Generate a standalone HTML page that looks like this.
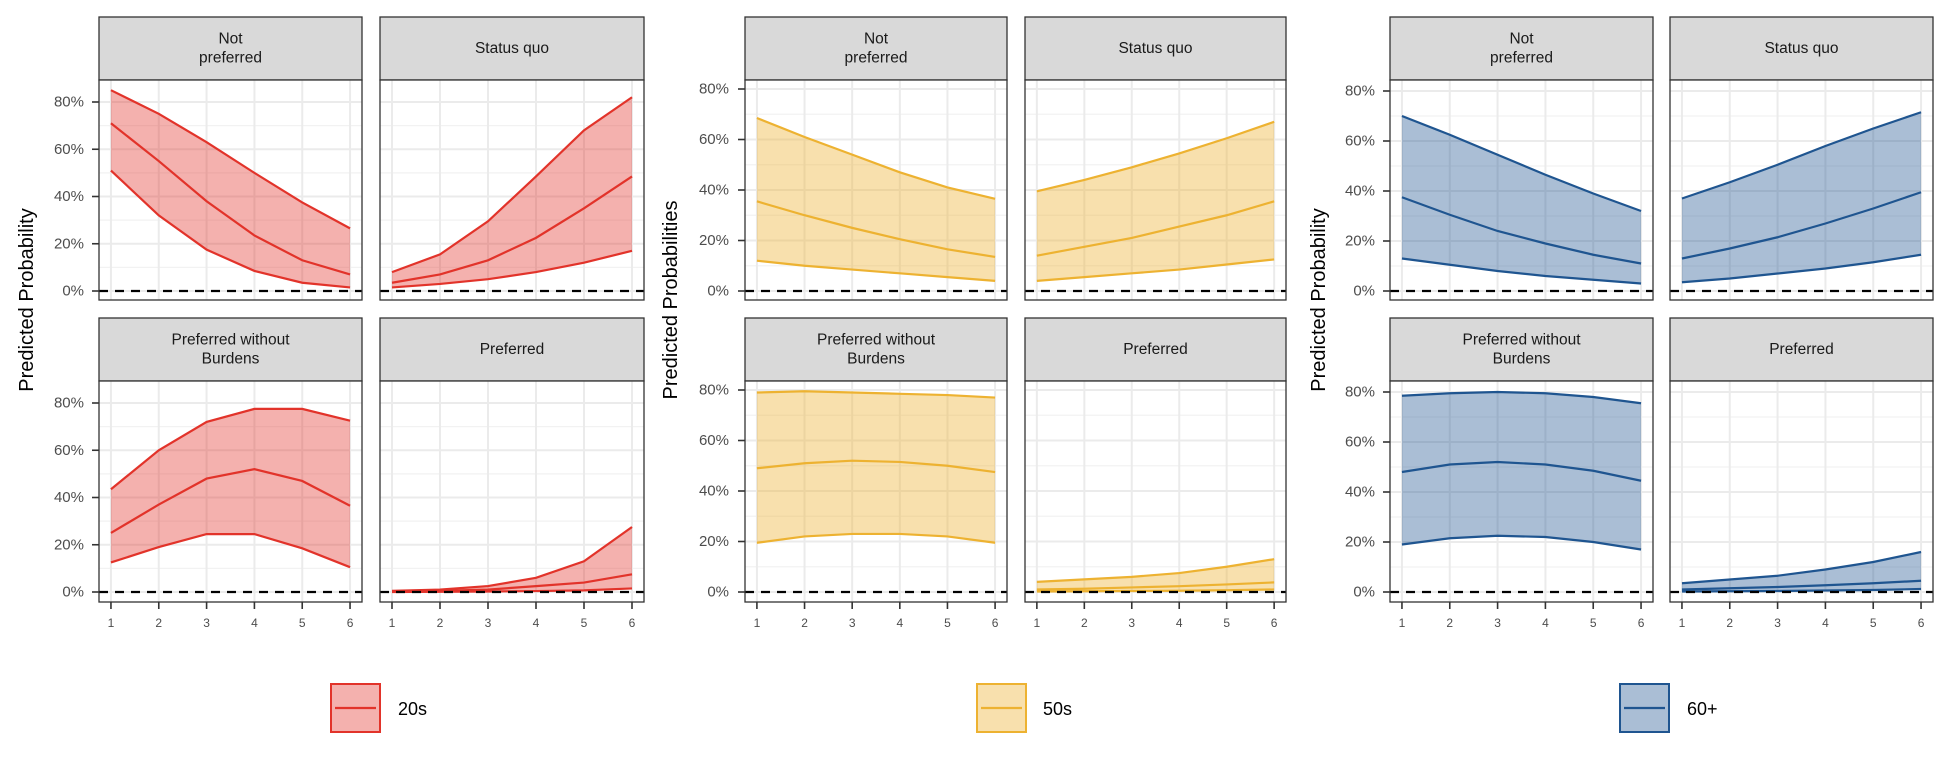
<!DOCTYPE html>
<html><head><meta charset="utf-8">
<style>
html,body{margin:0;padding:0;background:#fff;}
svg{display:block;font-family:"Liberation Sans",Arial,sans-serif;}
</style></head>
<body>
<svg id="chart" width="1950" height="768" viewBox="0 0 1950 768" xmlns="http://www.w3.org/2000/svg"></svg>
<script>
const xCats = [1,2,3,4,5,6];
const yTicks = [0,20,40,60,80];
const yTickLabels = ["0%","20%","40%","60%","80%"];
const facetNames = ["Not\npreferred","Status quo","Preferred without\nBurdens","Preferred"];
const groupNames = ["20s","50s","60+"];
// 20s
const g20_np_hi=[85,75,63,50,37.5,26.5], g20_np_mid=[71,55,38,23.5,13,7], g20_np_lo=[51,32,17.5,8.5,3.5,1.5];
const g20_sq_hi=[8,15.5,29.5,48.5,68,82], g20_sq_mid=[3.5,7,13,22.5,35,48.5], g20_sq_lo=[1.5,3,5,8,12,17];
const g20_pw_hi=[43.5,60,72,77.5,77.5,72.5], g20_pw_mid=[25,37,48,52,47,36.5], g20_pw_lo=[12.5,19,24.5,24.5,18.5,10.5];
const g20_pr_hi=[0.5,1,2.5,6,13,27.5], g20_pr_mid=[0.2,0.5,1,2.5,4,7.5], g20_pr_lo=[0,0.1,0.2,0.4,0.7,1.5];
// 50s
const g50_np_hi=[68.5,61,54,47,41,36.5], g50_np_mid=[35.5,30,25,20.5,16.5,13.5], g50_np_lo=[12,10,8.5,7,5.5,4];
const g50_sq_hi=[39.5,44,49,54.5,60.5,67], g50_sq_mid=[14,17.5,21,25.5,30,35.5], g50_sq_lo=[4,5.5,7,8.5,10.5,12.5];
const g50_pw_hi=[79,79.5,79,78.5,78,77], g50_pw_mid=[49,51,52,51.5,50,47.5], g50_pw_lo=[19.5,22,23,23,22,19.5];
const g50_pr_hi=[4,5,6,7.5,10,13], g50_pr_mid=[1,1.3,1.8,2.3,3,3.8], g50_pr_lo=[0.2,0.3,0.4,0.5,0.7,1];
// 60+
const g60_np_hi=[70,62.5,54.5,46.5,39,32], g60_np_mid=[37.5,30.5,24,19,14.5,11], g60_np_lo=[13,10.5,8,6,4.5,3];
const g60_sq_hi=[37,43.5,50.5,58,65,71.5], g60_sq_mid=[13,17,21.5,27,33,39.5], g60_sq_lo=[3.5,5,7,9,11.5,14.5];
const g60_pw_hi=[78.5,79.5,80,79.5,78,75.5], g60_pw_mid=[48,51,52,51,48.5,44.5], g60_pw_lo=[19,21.5,22.5,22,20,17];
const g60_pr_hi=[3.5,5,6.5,9,12,16], g60_pr_mid=[1,1.5,2,2.7,3.5,4.5], g60_pr_lo=[0.2,0.3,0.4,0.6,0.8,1.2];

const series = [
 [[g20_np_lo,g20_np_mid,g20_np_hi],[g20_sq_lo,g20_sq_mid,g20_sq_hi],[g20_pw_lo,g20_pw_mid,g20_pw_hi],[g20_pr_lo,g20_pr_mid,g20_pr_hi]],
 [[g50_np_lo,g50_np_mid,g50_np_hi],[g50_sq_lo,g50_sq_mid,g50_sq_hi],[g50_pw_lo,g50_pw_mid,g50_pw_hi],[g50_pr_lo,g50_pr_mid,g50_pr_hi]],
 [[g60_np_lo,g60_np_mid,g60_np_hi],[g60_sq_lo,g60_sq_mid,g60_sq_hi],[g60_pw_lo,g60_pw_mid,g60_pw_hi],[g60_pr_lo,g60_pr_mid,g60_pr_hi]]
];

const NS="http://www.w3.org/2000/svg";
const svg=document.getElementById('chart');
function mk(tag,attrs,parent){const e=document.createElementNS(NS,tag);for(const k in attrs)e.setAttribute(k,attrs[k]);(parent||svg).appendChild(e);return e;}

const layout=[
 {cols:[[99,362],[380,644]], y80:102, title:"Predicted Probability", titleX:27, labR:84, color:"#E2332A", fill:"rgba(226,51,42,0.38)", keyX:330, labX:398},
 {cols:[[745,1007],[1025,1286]], y80:89, title:"Predicted Probabilities", titleX:671, labR:729, color:"#EDB231", fill:"rgba(237,178,49,0.4)", keyX:976, labX:1043},
 {cols:[[1390,1653],[1670,1933]], y80:91, title:"Predicted Probability", titleX:1319, labR:1375, color:"#1F5590", fill:"rgba(31,85,144,0.38)", keyX:1619, labX:1687}
];
const rows=[{st:17,pt:80,pb:300,zero:291},{st:318,pt:381,pb:602,zero:592}];

layout.forEach((L,gi)=>{
  const g=mk('g',{});
  
  
  const yt=mk('text',{x:L.titleX,y:300,'font-size':20,fill:'#000','text-anchor':'middle',transform:`rotate(-90 ${L.titleX} 300)`,'dominant-baseline':'central'},g);
  yt.textContent=L.title;
  
  
  for(let f=0;f<4;f++){
    const r=rows[Math.floor(f/2)], c=L.cols[f%2];
    const x0=c[0],x1=c[1];
    const pxPer=(x1-x0)/5.5;
    const xs=v=>x0+(v-0.75)*pxPer;
    const ppu=(r.zero-(L.y80+(r.pt-80)))/80;
    const ys=v=>r.zero-v*ppu;
    const pg=mk('g',{},g);
    
    
    // strip
    const sr=mk('rect',{x:x0,y:r.st,width:x1-x0,height:r.pt-r.st,fill:'#D9D9D9',stroke:'#333','stroke-width':1.3},pg);
    
    
    const lines=facetNames[f].split('\n');
    const cy=(r.st+r.pt)/2;
    lines.forEach((t,i)=>{
      const tx=mk('text',{x:(x0+x1)/2,y:cy+(i-(lines.length-1)/2)*19,'font-size':15.5,fill:'#1a1a1a','text-anchor':'middle','dominant-baseline':'central'},pg);
      tx.textContent=t;
      
      
    });
    mk('rect',{x:x0,y:r.pt,width:x1-x0,height:r.pb-r.pt,fill:'#fff'},pg);
    // grid minor
    [10,30,50,70].forEach(v=>{const y=ys(v);if(y>r.pt)mk('line',{x1:x0,x2:x1,y1:y,y2:y,stroke:'#F2F2F2','stroke-width':1.2},pg);});
    yTicks.forEach(v=>{mk('line',{x1:x0,x2:x1,y1:ys(v),y2:ys(v),stroke:'#EBEBEB','stroke-width':2},pg);});
    xCats.forEach(v=>{mk('line',{x1:xs(v),x2:xs(v),y1:r.pt,y2:r.pb,stroke:'#EBEBEB','stroke-width':2},pg);});
    // ribbon
    const [lo,mid,hi]=series[gi][f];
    let d='M'+xCats.map((v,i)=>xs(v)+','+ys(hi[i])).join(' L');
    d+=' L'+xCats.slice().reverse().map((v,j)=>{const i=xCats.length-1-j;return xs(v)+','+ys(lo[i]);}).join(' L')+' Z';
    const rib=mk('path',{d:d,fill:L.fill,stroke:'none'},pg);
    
    
    [[lo,'lower-bound-line'],[mid,'estimate-line'],[hi,'upper-bound-line']].forEach(([arr,nm])=>{
      const pl=mk('polyline',{points:xCats.map((v,i)=>xs(v)+','+ys(arr[i])).join(' '),fill:'none',stroke:L.color,'stroke-width':2.2},pg);
      
      
    });
    const zl=mk('line',{x1:x0,x2:x1,y1:r.zero,y2:r.zero,stroke:'#000','stroke-width':2.2,'stroke-dasharray':'9 7'},pg);
    
    
    mk('rect',{x:x0,y:r.pt,width:x1-x0,height:r.pb-r.pt,fill:'none',stroke:'#333','stroke-width':1.3},pg);
    // y axis on left col
    if(f%2===0){
      yTicks.forEach((v,i)=>{
        mk('line',{x1:x0-7,x2:x0,y1:ys(v),y2:ys(v),stroke:'#333','stroke-width':1.6},pg);
        const t=mk('text',{x:L.labR,y:ys(v),'font-size':15,fill:'#4D4D4D','text-anchor':'end','dominant-baseline':'central'},pg);
        t.textContent=yTickLabels[i];
        
        
      });
    }
    if(f>=2){
      xCats.forEach(v=>{
        mk('line',{x1:xs(v),x2:xs(v),y1:r.pb,y2:r.pb+7,stroke:'#333','stroke-width':1.6},pg);
        const t=mk('text',{x:xs(v),y:623,'font-size':12,fill:'#4D4D4D','text-anchor':'middle','dominant-baseline':'central'},pg);
        t.textContent=String(v);
        
        
      });
    }
  }
  // legend
  const lg=mk('g',{},g);
  
  
  mk('rect',{x:L.keyX+1,y:684,width:49,height:48,fill:L.fill,stroke:L.color,'stroke-width':2},lg);
  mk('line',{x1:L.keyX+5,x2:L.keyX+46,y1:708,y2:708,stroke:L.color,'stroke-width':2.2},lg);
  const lt=mk('text',{x:L.labX,y:709,'font-size':18,fill:'#000','dominant-baseline':'central'},lg);
  lt.textContent=groupNames[gi];
});
</script>
</body></html>
